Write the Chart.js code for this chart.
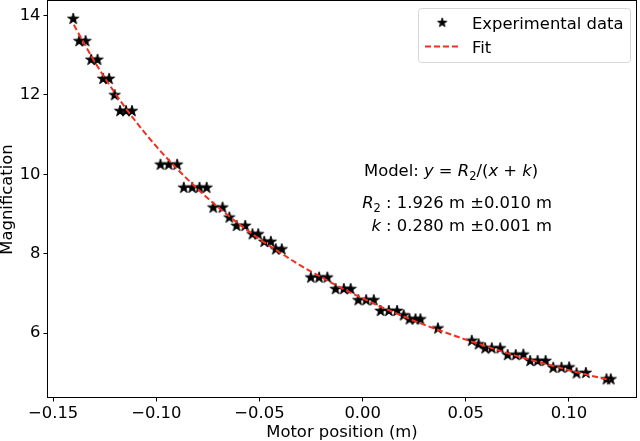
<!DOCTYPE html>
<html>
<head>
<meta charset="utf-8">
<script src="https://cdn.jsdelivr.net/npm/chart.js@4.4.1/dist/chart.umd.min.js"></script>
<style>html,body{margin:0;background:#fff}</style>
</head>
<body>
<canvas id="c" width="640" height="441"></canvas>
<script>
// measured points (motor position in m, magnification)
const posX = [-0.1403,-0.1374,-0.1343,-0.1316,-0.1285,-0.1258,-0.1229,-0.1202,-0.1176,-0.1147,-0.1118,
  -0.0980,-0.0940,-0.0899,-0.0867,-0.0826,-0.0791,-0.0756,-0.0724,-0.0679,-0.0646,-0.0611,-0.0569,-0.0534,-0.0506,-0.0477,-0.0445,-0.0421,-0.0392,
  -0.0251,-0.0211,-0.0171,-0.0131,-0.0091,-0.0058,-0.0021,0.0017,0.0054,0.0087,0.0127,0.0167,0.0199,0.0227,0.0256,0.0280,0.0365,
  0.0529,0.0562,0.0594,0.0626,0.0667,0.0703,0.0742,0.0779,0.0812,0.0848,0.0887,0.0924,0.0964,0.1001,0.1037,0.1082,0.1182,0.1203];
const magY = [13.91,13.35,13.35,12.88,12.88,12.40,12.40,11.99,11.59,11.59,11.59,
  10.24,10.24,10.24,9.66,9.66,9.66,9.66,9.16,9.16,8.91,8.70,8.70,8.49,8.49,8.30,8.30,8.11,8.11,
  7.40,7.40,7.40,7.11,7.11,7.11,6.83,6.83,6.83,6.56,6.56,6.56,6.45,6.35,6.35,6.35,6.12,
  5.81,5.72,5.62,5.62,5.62,5.45,5.45,5.46,5.30,5.30,5.30,5.13,5.13,5.14,4.99,5.00,4.84,4.84];

// fit curve
const fitX = [-0.14,-0.13,-0.12,-0.11,-0.10,-0.09,-0.08,-0.07,-0.06,-0.05,-0.04,-0.03,-0.02,-0.01,
  0.00,0.01,0.02,0.03,0.04,0.05,0.06,0.07,0.08,0.09,0.10,0.11,0.12];
const fitY = [13.76,12.84,12.04,11.33,10.70,10.14,9.63,9.17,8.75,8.37,8.03,7.70,7.41,7.13,
  6.88,6.64,6.42,6.21,6.02,5.84,5.67,5.50,5.35,5.21,5.07,4.94,4.82];

const xTicks = [-0.15,-0.10,-0.05,0.00,0.05,0.10];
const yTicks = [6,8,10,12,14];

const FONT = "'DejaVu Sans', sans-serif";
const FS = 16.4;
const RED = "#f0301e";

const makeStar = (R) => {
  const size = Math.ceil(R * 2 + 4);
  const cv = document.createElement("canvas");
  cv.width = size; cv.height = size;
  const g = cv.getContext("2d");
  const c = size / 2, r = R * 0.382;
  g.beginPath();
  for (let i = 0; i < 10; i++) {
    const a = -Math.PI / 2 + i * Math.PI / 5;
    const rr = i % 2 ? r : R;
    g.lineTo(c + rr * Math.cos(a), c + rr * Math.sin(a));
  }
  g.closePath();
  g.fillStyle = "#000"; g.fill();
  g.lineWidth = 1; g.strokeStyle = "#000"; g.stroke();
  return cv;
};
const star = makeStar(5.8);

// draw a line of mixed normal / italic / subscript text
const drawRich = (ctx, segs, x, y, align) => {
  const fontOf = (s) => {
    if (s[1] === "i") return `italic ${FS}px ${FONT}`;
    if (s[1] === "sub") return `${FS * 0.7}px ${FONT}`;
    return `${FS}px ${FONT}`;
  };
  let total = 0;
  segs.forEach((s) => { ctx.font = fontOf(s); total += ctx.measureText(s[0]).width; });
  let cx = align === "right" ? x - total : x;
  ctx.textBaseline = "alphabetic";
  ctx.textAlign = "left";
  segs.forEach((s) => {
    ctx.font = fontOf(s);
    ctx.fillText(s[0], cx, s[1] === "sub" ? y + 3.5 : y);
    cx += ctx.measureText(s[0]).width;
  });
};

const decor = {
  id: "decor",
  afterDraw(chart) {
    const { ctx, chartArea: a } = chart;
    ctx.save();
    // frame
    ctx.strokeStyle = "#000"; ctx.lineWidth = 1;
    ctx.strokeRect(Math.round(a.left) + 0.5, Math.round(a.top) - 0.5, Math.round(a.right - a.left) - 1, Math.round(a.bottom - a.top));

    // legend box
    const lx = 418.5, ly = 8.5, lw = 212, lh = 54, rad = 3;
    ctx.beginPath();
    ctx.moveTo(lx + rad, ly);
    ctx.arcTo(lx + lw, ly, lx + lw, ly + lh, rad);
    ctx.arcTo(lx + lw, ly + lh, lx, ly + lh, rad);
    ctx.arcTo(lx, ly + lh, lx, ly, rad);
    ctx.arcTo(lx, ly, lx + lw, ly, rad);
    ctx.closePath();
    ctx.fillStyle = "rgba(255,255,255,0.8)"; ctx.fill();
    ctx.strokeStyle = "#d6d6d6"; ctx.stroke();

    ctx.drawImage(makeStar(4.8), 442 - 6.8, 22.5 - 6.8);
    ctx.strokeStyle = RED; ctx.lineWidth = 2; ctx.setLineDash([6, 3]);
    ctx.beginPath(); ctx.moveTo(425, 46.5); ctx.lineTo(459, 46.5); ctx.stroke();
    ctx.setLineDash([]);
    ctx.fillStyle = "#000";
    ctx.font = `${FS}px ${FONT}`;
    ctx.textAlign = "left"; ctx.textBaseline = "alphabetic";
    ctx.fillText("Experimental data", 472, 28.5);
    ctx.fillText("Fit", 472, 52.5);

    // model annotation
    drawRich(ctx, [["Model: ", "n"], ["y", "i"], [" = ", "n"], ["R", "i"], ["2", "sub"], ["/(", "n"], ["x", "i"], [" + ", "n"], ["k", "i"], [")", "n"]], 364, 176);
    drawRich(ctx, [["R", "i"], ["2", "sub"], [" : 1.926 m ±0.010 m", "n"]], 552, 208, "right");
    drawRich(ctx, [["k", "i"], [" : 0.280 m ±0.001 m", "n"]], 552, 231, "right");
    ctx.restore();
  },
};

const fmtX = (v) => {
  const s = Math.abs(v) < 1e-9 ? "0.00" : Number(v).toFixed(2);
  return s.replace("-", "\u2212");
};

new Chart(document.getElementById("c"), {
  type: "scatter",
  data: {
    datasets: [
      {
        type: "line",
        label: "Fit",
        data: fitX.map((x, i) => ({ x, y: fitY[i] })),
        borderColor: RED,
        borderWidth: 2,
        borderDash: [6, 3],
        pointRadius: 0,
        cubicInterpolationMode: "monotone",
        fill: false,
      },
      {
        label: "Experimental data",
        data: posX.map((x, i) => ({ x, y: magY[i] })),
        pointStyle: star,
        pointRadius: 6,
        showLine: false,
      },
    ],
  },
  options: {
    responsive: false,
    animation: false,
    devicePixelRatio: 1,
    layout: { autoPadding: false, padding: { left: 0, right: 3, top: 1, bottom: 0 } },
    plugins: { legend: { display: false }, tooltip: { enabled: false } },
    scales: {
      x: {
        type: "linear",
        min: -0.153,
        max: 0.133,
        afterBuildTicks: (s) => { s.ticks = xTicks.map((value) => ({ value })); },
        afterFit: (s) => { s.height = 43; s.paddingLeft = 0; s.paddingRight = 0; },
        ticks: { callback: fmtX, color: "#000", font: { family: FONT, size: FS }, padding: 2, maxRotation: 0, autoSkip: false },
        grid: { drawOnChartArea: false, drawTicks: true, tickLength: 3.5, tickColor: "#000", lineWidth: 1 },
        border: { display: false },
        title: { display: true, text: "Motor position (m)", color: "#000", font: { family: FONT, size: FS, lineHeight: 1 }, padding: { top: 0, bottom: 0 } },
      },
      y: {
        type: "linear",
        min: 4.37,
        max: 14.36,
        afterBuildTicks: (s) => { s.ticks = yTicks.map((value) => ({ value })); },
        afterFit: (s) => { s.width = 47; s.paddingTop = 0; s.paddingBottom = 0; },
        ticks: { callback: (v) => String(v), color: "#000", font: { family: FONT, size: FS }, padding: 3 },
        grid: { drawOnChartArea: false, drawTicks: true, tickLength: 3.5, tickColor: "#000", lineWidth: 1 },
        border: { display: false },
        title: { display: true, text: "Magnification", color: "#000", font: { family: FONT, size: FS, lineHeight: 1 }, padding: { top: 0, bottom: 0 } },
      },
    },
  },
  plugins: [decor],
});
</script>
</body>
</html>
